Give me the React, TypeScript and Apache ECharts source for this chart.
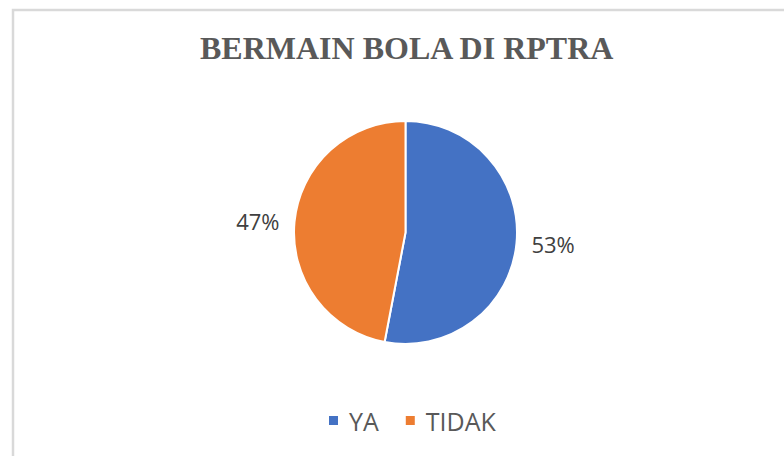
import React, { useEffect, useRef } from "react";
import * as echarts from "echarts";

const TITLE = "BERMAIN BOLA DI RPTRA";
const categories = ["YA", "TIDAK"];
const values = [53, 47];
const colors = ["#4472C4", "#ED7D31"];

export default function App() {
  const ref = useRef<HTMLDivElement>(null);
  useEffect(() => {
    if (!ref.current) return;
    const chart = echarts.init(ref.current, undefined, { renderer: "svg" });
    chart.setOption({
      animation: false,
      backgroundColor: "#ffffff",
      graphic: [
        {
          type: "rect",
          shape: { x: 13, y: 10, width: 820, height: 500 },
          style: { fill: "none", stroke: "#D9D9D9", lineWidth: 2.5 },
          silent: true,
          z: -1,
        },
      ],
      title: {
        text: TITLE,
        left: 195,
        top: 27,
        textStyle: {
          fontFamily: "Liberation Serif",
          fontWeight: "bold",
          fontSize: 32,
          color: "#595959",
        },
      },
      legend: {
        data: categories,
        top: 403,
        left: 322,
        icon: "rect",
        itemWidth: 11,
        itemHeight: 11,
        itemGap: 25,
        textStyle: {
          fontFamily: "Open Sans",
          fontSize: 25,
          color: "#595959",
          padding: [0, 0, 0, 5],
        },
      },
      series: [
        {
          type: "pie",
          center: [405.5, 232.5],
          radius: 111.5,
          startAngle: 90,
          clockwise: true,
          itemStyle: { borderColor: "#ffffff", borderWidth: 2 },
          label: {
            show: true,
            position: "outside",
            formatter: (p: any) => Math.round(p.percent) + "%",
            fontFamily: "Open Sans",
            fontSize: 22,
            color: "#404040",
          },
          labelLine: { show: false, length: 10, length2: 0 },
          data: categories.map((c, i) => ({
            name: c,
            value: values[i],
            itemStyle: { color: colors[i] },
          })),
        },
      ],
    });
    return () => chart.dispose();
  }, []);
  return (
    <div
      ref={ref}
      style={{ position: "fixed", left: 0, top: 0, width: 784, height: 456 }}
    />
  );
}
